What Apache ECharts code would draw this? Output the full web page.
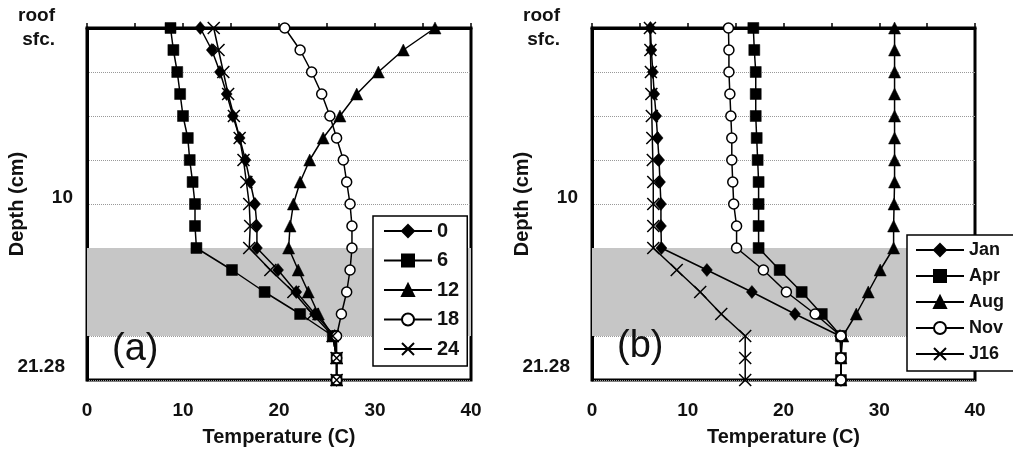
<!DOCTYPE html>
<html>
<head>
<meta charset="utf-8">
<script src="https://cdn.jsdelivr.net/npm/echarts@6/dist/echarts.min.js"></script>
<style>
html, body { margin: 0; padding: 0; background: #fff; }
#main { width: 1013px; height: 463px; }
</style>
</head>
<body>
<div id="main"></div>
<script>
// layer nodes down the profile (0 = roof surface, 16 = bottom, 21.28 cm)
var nodes = [0, 1, 2, 3, 4, 5, 6, 7, 8, 9, 10, 11, 12, 13, 14, 15, 16];
var depthTicks = [0, 8, 16];
var depthTickLabels = ['roof\nsfc.', '10', '21.28'];
var tempTicks = [0, 10, 20, 30, 40];
var shadedLayer = [10, 14];

// (a) hour of day
var hourNames = ['0', '6', '12', '18', '24'];
var hour0  = [11.8, 13.0, 13.85, 14.55, 15.2, 15.9, 16.5, 17.0, 17.5, 17.7, 17.7, 19.9, 21.8, 23.75, 25.8, 26.0, 26.0];
var hour6  = [8.7, 9.0, 9.4, 9.7, 10.0, 10.5, 10.7, 11.0, 11.25, 11.25, 11.4, 15.1, 18.5, 22.2, 25.6, 26.0, 26.0];
var hour12 = [36.25, 32.95, 30.35, 28.1, 26.35, 24.6, 23.2, 22.2, 21.5, 21.15, 21.0, 22.0, 23.05, 24.1, 25.6, 26.0, 26.0];
var hour18 = [20.6, 22.2, 23.4, 24.45, 25.3, 26.0, 26.7, 27.05, 27.4, 27.6, 27.6, 27.4, 27.05, 26.5, 26.0, 26.0, 26.0];
var hour24 = [13.2, 13.7, 14.2, 14.7, 15.3, 15.9, 16.3, 16.6, 16.9, 17.0, 16.9, 19.1, 21.5, 23.5, 25.6, 26.0, 26.0];

// (b) month
var monthNames = ['Jan', 'Apr', 'Aug', 'Nov', 'J16'];
var jan = [6.1, 6.2, 6.35, 6.5, 6.7, 6.85, 7.0, 7.1, 7.2, 7.2, 7.25, 12.0, 16.7, 21.2, 25.9, 26.0, 26.0];
var apr = [16.85, 16.95, 17.1, 17.1, 17.1, 17.2, 17.3, 17.4, 17.4, 17.4, 17.4, 19.6, 21.9, 24.0, 26.0, 26.0, 26.0];
var aug = [31.6, 31.6, 31.6, 31.6, 31.6, 31.6, 31.6, 31.6, 31.55, 31.5, 31.5, 30.1, 28.85, 27.6, 26.2, 26.0, 26.0];
var nov = [14.25, 14.3, 14.3, 14.4, 14.5, 14.6, 14.6, 14.7, 14.8, 15.1, 15.1, 17.9, 20.3, 23.3, 26.0, 26.0, 26.0];
var j16 = [6.05, 6.1, 6.15, 6.2, 6.25, 6.3, 6.35, 6.4, 6.4, 6.4, 6.4, 8.85, 11.3, 13.5, 16.0, 16.0, 16.0];

var FONT = 'Liberation Sans';
var markers = [
    { symbol: 'diamond', size: [11, 13], fill: '#000' },
    { symbol: 'rect', size: 11, fill: '#000' },
    { symbol: 'triangle', size: 12, fill: '#000' },
    { symbol: 'circle', size: 10, fill: '#fff' },
    { symbol: 'path://M0,0 L10,10 M10,0 L0,10', size: 12, fill: '#000' }
];

function makeSeries(name, temps, idx, k) {
    var m = markers[k];
    var s = {
        name: name,
        type: 'line',
        xAxisIndex: idx,
        yAxisIndex: idx,
        data: temps.map(function (t, i) { return [t, nodes[i]]; }),
        symbol: m.symbol,
        symbolSize: m.size,
        showAllSymbol: true,
        lineStyle: { color: '#000', width: 1.5 },
        itemStyle: { color: m.fill, borderColor: '#000', borderWidth: k >= 3 ? 1.5 : 0.5 },
        emphasis: { disabled: true },
        animation: false
    };
    if (k === 0) {
        // shaded layer of the profile
        s.markArea = {
            silent: true,
            itemStyle: { color: '#c6c6c6' },
            data: [[{ yAxis: shadedLayer[0] }, { yAxis: shadedLayer[1] }]]
        };
    }
    return s;
}

var labelKeys = ['s', 'm', 'e'];
function depthLabel(v) {
    var k = depthTicks.indexOf(v);
    if (k < 0) return '';
    return depthTickLabels[k].split('\n').map(function (l) {
        return '{' + labelKeys[k] + '|' + l + '}';
    }).join('\n');
}
var labelText = { fontFamily: FONT, fontWeight: 'bold', fontSize: 19, color: '#111' };

function xAxisFor(idx) {
    return {
        gridIndex: idx, type: 'value', min: 0, max: 40, interval: 5,
        name: 'Temperature (C)', nameLocation: 'middle', nameGap: 47, nameMoveOverlap: false,
        nameTextStyle: { fontFamily: FONT, fontWeight: 'bold', fontSize: 20, color: '#111' },
        axisLine: { show: true, lineStyle: { color: '#000', width: 3 } },
        axisTick: { show: true, inside: true, length: 5, lineStyle: { color: '#000', width: 1.5 } },
        axisLabel: Object.assign({
            margin: 21,
            formatter: function (v) { return tempTicks.indexOf(v) >= 0 ? String(v) : ''; }
        }, labelText),
        splitLine: { show: false }
    };
}
function yAxisFor(idx) {
    return {
        gridIndex: idx, type: 'value', min: 0, max: 16, interval: 2, inverse: true,
        name: 'Depth (cm)', nameLocation: 'middle', nameGap: 60, nameMoveOverlap: false,
        nameTextStyle: { fontFamily: FONT, fontWeight: 'bold', fontSize: 20, color: '#111' },
        axisLine: { show: true, lineStyle: { color: '#000', width: 3 } },
        axisTick: { show: false },
        axisLabel: Object.assign({
            margin: 14,
            formatter: depthLabel,
            rich: {
                s: { fontFamily: FONT, fontWeight: 'bold', fontSize: 19, color: '#111', lineHeight: 24, padding: [0, 18, 0, 0] },
                m: { fontFamily: FONT, fontWeight: 'bold', fontSize: 19, color: '#111', padding: [0, 0, 12, 0] },
                e: { fontFamily: FONT, fontWeight: 'bold', fontSize: 19, color: '#111', padding: [0, 8, 26, 0] }
            }
        }, labelText),
        splitLine: { show: true, lineStyle: { color: '#999', width: 1, type: 'dotted' } }
    };
}

var series = [];
[hour0, hour6, hour12, hour18, hour24].forEach(function (d, k) {
    series.push(makeSeries(hourNames[k], d, 0, k));
});
[jan, apr, aug, nov, j16].forEach(function (d, k) {
    series.push(makeSeries(monthNames[k], d, 1, k));
});

var legendBase = {
    orient: 'vertical',
    backgroundColor: '#fff',
    borderColor: '#000',
    borderWidth: 1.5,
    borderRadius: 0,
    itemWidth: 48,
    itemHeight: 15,
    selectedMode: false,
    inactiveColor: '#000'
};

var gridBase = {
    top: 28, height: 352, show: true, borderColor: '#000', borderWidth: 3,
    backgroundColor: 'transparent', containLabel: false, outerBoundsMode: 'none'
};

var option = {
    backgroundColor: '#fff',
    animation: false,
    grid: [
        Object.assign({}, gridBase, { left: 87, width: 384 }),
        Object.assign({}, gridBase, { left: 592, width: 383 })
    ],
    xAxis: [xAxisFor(0), xAxisFor(1)],
    yAxis: [yAxisFor(0), yAxisFor(1)],
    legend: [
        Object.assign({}, legendBase, {
            data: hourNames, left: 373, top: 216, itemGap: 9.5,
            padding: [5, 8, 7, 10],
            textStyle: { fontFamily: FONT, fontWeight: 'bold', fontSize: 20, color: '#111' }
        }),
        Object.assign({}, legendBase, {
            data: monthNames, left: 907, top: 235, itemGap: 8,
            padding: [6, 14, 8, 8],
            textStyle: { fontFamily: FONT, fontWeight: 'bold', fontSize: 18, color: '#111' }
        })
    ],
    graphic: [
        { type: 'text', left: 112, top: 331, z: 100, style: { text: '(a)', fontFamily: FONT, fontSize: 38, fill: '#111' } },
        { type: 'text', left: 617, top: 328, z: 100, style: { text: '(b)', fontFamily: FONT, fontSize: 38, fill: '#111' } }
    ],
    series: series
};

var myChart = echarts.init(document.getElementById('main'), null, { renderer: 'canvas' });
myChart.setOption(option);
</script>
</body>
</html>
